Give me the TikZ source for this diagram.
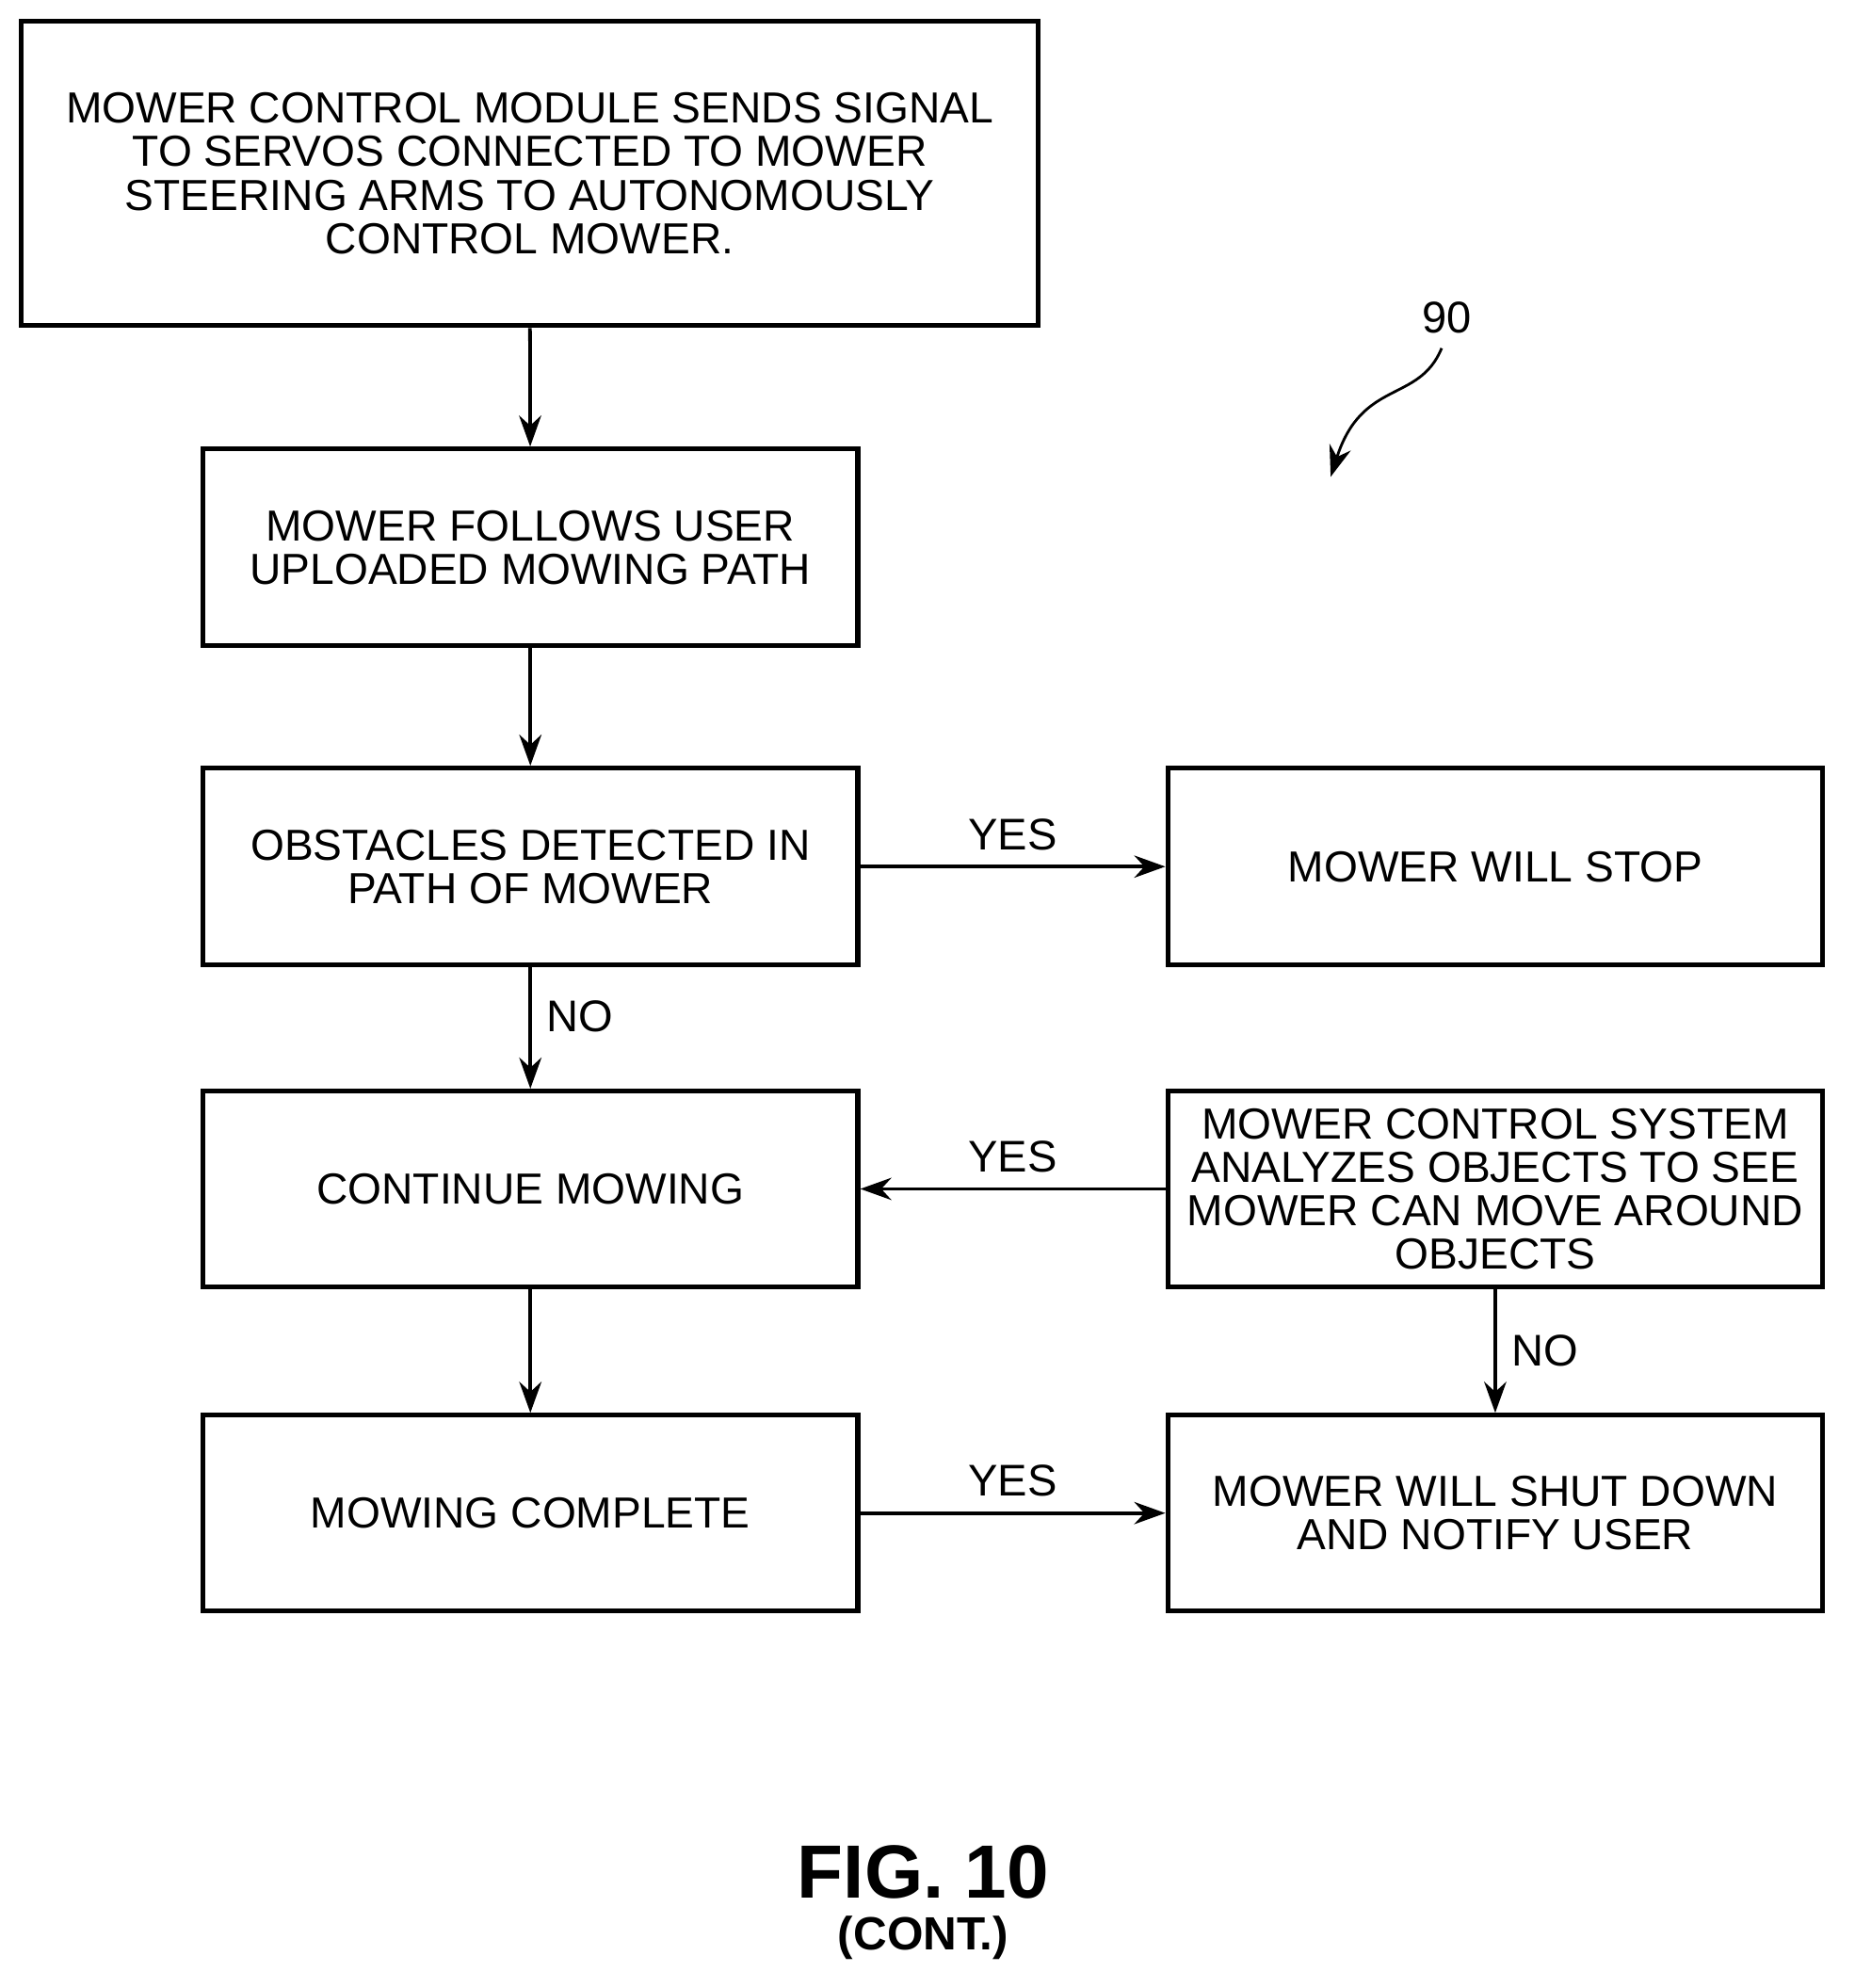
\documentclass[tikz,border=0pt]{standalone}
\usepackage{fontspec}
\setmainfont{Liberation Sans}
\usetikzlibrary{arrows.meta}
\tikzset{
  box/.style={draw, line width=1.1pt, align=center, font=\fontsize{9.8}{9.8}\selectfont, inner sep=0pt},
  flow/.style={-{Stealth[length=7pt,width=5pt]}, line width=0.8pt},
  lbl/.style={font=\fontsize{10}{11}\selectfont}
}
\begin{document}
\begin{tikzpicture}[x=0.01cm,y=-0.01cm]
\useasboundingbox (0,0) rectangle (1470,1576);

% boxes
\node [box, minimum width=8.06cm, minimum height=2.41cm] (send) at (420,137.5)
  {\raisebox{0.1cm}{\parbox{8cm}{\centering\fontsize{9.8}{9.8}\selectfont MOWER CONTROL MODULE SENDS SIGNAL\\ TO SERVOS CONNECTED TO MOWER\\ STEERING ARMS TO AUTONOMOUSLY\\ CONTROL MOWER.}}};
\node [box, minimum width=5.19cm, minimum height=1.56cm] (follow) at (420.5,434)
  {MOWER FOLLOWS USER\\ UPLOADED MOWING PATH};
\node [box, minimum width=5.19cm, minimum height=1.56cm] (detect) at (420.5,687)
  {OBSTACLES DETECTED IN\\ PATH OF MOWER};
\node [box, minimum width=5.19cm, minimum height=1.56cm] (stop) at (1185.5,687)
  {MOWER WILL STOP};
\node [box, minimum width=5.19cm, minimum height=1.55cm] (cont) at (420.5,942.5)
  {CONTINUE MOWING};
\node [box, minimum width=5.19cm, minimum height=1.55cm] (analyze) at (1185.5,942.5)
  {MOWER CONTROL SYSTEM\\ ANALYZES OBJECTS TO SEE\\ MOWER CAN MOVE AROUND\\ OBJECTS};
\node [box, minimum width=5.19cm, minimum height=1.55cm] (done) at (420.5,1199.5)
  {MOWING COMPLETE};
\node [box, minimum width=5.19cm, minimum height=1.55cm] (shut) at (1185.5,1199.5)
  {MOWER WILL SHUT DOWN\\ AND NOTIFY USER};

% connectors
\draw [flow] (send) -- (follow);
\draw [flow] (follow) -- (detect);
\draw [flow] (detect) -- node [lbl, right, pos=0.4] {NO} (cont);
\draw [flow] (detect) -- node [lbl, above] {YES} (stop);
\draw [flow] (analyze) -- node [lbl, above] {YES} (cont);
\draw [flow] (analyze) -- node [lbl, right] {NO} (shut);
\draw [flow] (cont) -- (done);
\draw [flow] (done) -- node [lbl, above] {YES} (shut);

% reference numeral
\node [lbl] (ref) at (1147,252) {90};
\coordinate (refend) at (1055,378);
\draw [flow, line width=0.6pt] (1143,276) .. controls (1125,320) and (1080,300) .. (refend);

% caption
\node [font=\bfseries\fontsize{17}{18}\selectfont] (fig) at (732,1484) {FIG. 10};
\node [font=\bfseries\fontsize{10.5}{12}\selectfont] (cap) at (732,1536) {(CONT.)};
\end{tikzpicture}
\end{document}
